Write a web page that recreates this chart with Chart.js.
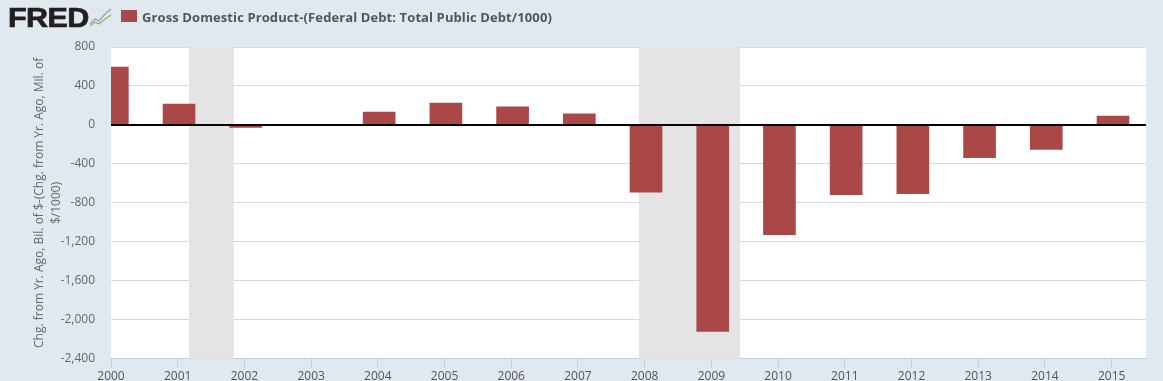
<!DOCTYPE html>
<html><head><meta charset="utf-8">
<script src="https://cdn.jsdelivr.net/npm/chart.js@4"></script>
<style>
html,body{margin:0;padding:0;background:#e1e9f0;width:1163px;height:381px;overflow:hidden}
#wrap{position:relative;width:1163px;height:381px;overflow:hidden}
canvas{position:absolute;left:0;top:0}
#logo{position:absolute;left:8px;top:1px;font:900 27px/34px "Liberation Sans",sans-serif;color:#231f20;-webkit-text-stroke:.7px #231f20;transform:scaleX(1.13);transform-origin:left top;letter-spacing:-.5px}
#icon{position:absolute;left:90px;top:8px}
#sw{position:absolute;left:121px;top:10px;width:16px;height:12px;background:#aa4747}
#lg{position:absolute;left:142px;top:9px;font:bold 13px/16px "Open Sans",sans-serif;letter-spacing:.1px;color:#555}
</style></head><body>
<div id="wrap">
<canvas id="c" width="1163" height="382"></canvas>
<div id="logo">FRED</div>
<svg id="icon" width="22" height="20" viewBox="0 0 22 20"><rect width="22" height="20" fill="#e3e6e6"/><polyline points="0,16 5,11 9,13 15,6 21,1" fill="none" stroke="#7ba6c9" stroke-width="1.2"/><polyline points="0,18 5,14 9,16 15,11 21,7" fill="none" stroke="#8fb06a" stroke-width="1.2"/></svg>
<div id="sw"></div>
<div id="lg">Gross Domestic Product-(Federal Debt: Total Public Debt/1000)</div>
</div>
<script>
const years=[2000,2001,2002,2003,2004,2005,2006,2007,2008,2009,2010,2011,2012,2013,2014,2015];
const values=[595,215,-25,0,133,225,185,113,-690,-2120,-1125,-715,-705,-335,-250,92];
const recessionStart=[2001.17,2007.915];
const recessionEnd=[2001.84,2009.43];
const yTicks=[800,400,0,-400,-800,-1200,-1600,-2000,-2400];
const yTitle=["Chg. from Yr. Ago, Bil. of $-(Chg. from Yr. Ago, Mil. of","$/1000)"];
const font='"Open Sans",sans-serif';
const bands={id:'bands',
  beforeDraw(ch){const a=ch.chartArea,c=ch.ctx;c.save();c.fillStyle='#fff';c.fillRect(a.left,a.top,a.width,a.height);c.restore();},
  beforeDatasetsDraw(ch){const a=ch.chartArea,c=ch.ctx,x=ch.scales.x;c.save();c.fillStyle='#e4e4e4';
    recessionStart.forEach((s,i)=>{const l=x.getPixelForValue(s),r=x.getPixelForValue(recessionEnd[i]);c.fillRect(l,a.top,r-l,a.height);});c.restore();},
  afterDatasetsDraw(ch){const a=ch.chartArea,c=ch.ctx,y=Math.round(ch.scales.y.getPixelForValue(0));c.save();c.fillStyle='#000';c.fillRect(a.left,y-1,a.width,2);c.restore();}
};
new Chart(document.getElementById('c'),{
  type:'bar',
  data:{datasets:[{data:years.map((x,i)=>({x:x+0.02,y:values[i]})),backgroundColor:'#aa4747',barThickness:32,borderWidth:0}]},
  options:{responsive:false,animation:false,
    layout:{autoPadding:false,padding:{top:47,right:17,left:0,bottom:0}},
    plugins:{legend:{display:false},tooltip:{enabled:false}},
    scales:{
      x:{type:'linear',min:2000,max:2015.515,offset:false,
        afterBuildTicks(s){s.ticks=years.map(v=>({value:v}));},
        afterFit(s){s.height=22;},
        border:{color:'#c0d0e0',width:1},
        grid:{offset:false,drawOnChartArea:false,tickColor:'#c0d0e0',tickLength:9},
        ticks:{autoSkip:false,maxRotation:0,padding:2,color:'#555',font:{family:font,size:12},callback:v=>String(v)}},
      y:{min:-2400,max:800,
        afterBuildTicks(s){s.ticks=yTicks.map(v=>({value:v}));},
        afterFit(s){s.width=111;},
        border:{display:false},
        grid:{color:'#d8d8d8',lineWidth:1,drawTicks:false},
        ticks:{padding:16,color:'#666',font:{family:font,size:12},callback:v=>v.toLocaleString('en-US')},
        title:{display:true,text:yTitle,color:'#666',font:{family:font,size:12,lineHeight:1.4},padding:{top:31,bottom:0}}}
    }
  },
  plugins:[bands]
});
</script>
</body></html>
